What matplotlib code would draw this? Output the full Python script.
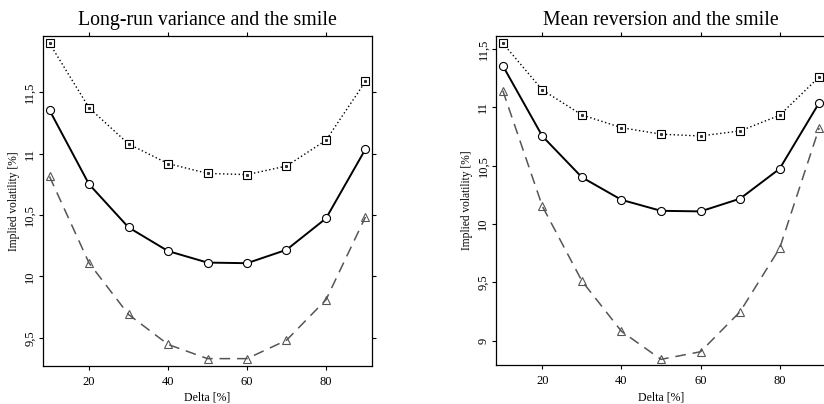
import matplotlib
matplotlib.use("Agg")
import matplotlib.pyplot as plt
from matplotlib.ticker import FuncFormatter

plt.rcParams['font.family'] = ['Liberation Serif', 'DejaVu Serif']

# Delta grid [%]
delta = [10, 20, 30, 40, 50, 60, 70, 80, 90]

# Base-case smile (shared by both panels)
base = [11.355, 10.752, 10.40, 10.207, 10.113, 10.108, 10.217, 10.473, 11.038]

# Long-run variance scenarios
lr_high = [11.90, 11.375, 11.08, 10.92, 10.84, 10.83, 10.90, 11.11, 11.59]
lr_low = [10.815, 10.11, 9.69, 9.446, 9.33, 9.33, 9.48, 9.81, 10.485]

# Mean reversion scenarios
mr_high = [11.548, 11.148, 10.934, 10.825, 10.769, 10.754, 10.797, 10.931, 11.26]
mr_low = [11.142, 10.152, 9.512, 9.081, 8.841, 8.906, 9.249, 9.792, 10.823]

titles = ["Long-run variance and the smile", "Mean reversion and the smile"]
x_ticks = [20, 40, 60, 80]
y_ticks_left = [9.5, 10, 10.5, 11, 11.5]
y_ticks_right = [9, 9.5, 10, 10.5, 11, 11.5]

W, H = 824, 404
fig = plt.figure(figsize=(W / 100, H / 100), dpi=100)

def px_axes(x0, x1, ytop, ybot):
    return fig.add_axes([x0 / W, 1 - ybot / H, (x1 - x0) / W, (ybot - ytop) / H])

ax_l = px_axes(43, 372, 36, 366)
ax_r = px_axes(496.3, 825.7, 36, 365.3)

comma = FuncFormatter(lambda v, p: (f"{v:g}").replace(".", ","))

def draw(ax, hi, lo, title, yticks, ylim):
    ax.plot(delta, hi, color="black", linestyle=(0, (1, 1.8)), lw=1.0,
            marker="s", ms=5.6, mfc="white", mec="black", mew=0.8, zorder=3)
    ax.plot(delta, hi, linestyle="none", marker="s", ms=1.2, color="#333333", zorder=4)
    ax.plot(delta, base, color="black", linestyle="-", lw=1.4,
            marker="o", ms=5.8, mfc="white", mec="black", mew=0.8, zorder=3)
    ax.plot(delta, lo, color="#555555", linestyle=(0, (7, 4.5)), lw=1.1,
            marker="^", ms=5.8, mfc="none", mec="#555555", mew=0.8, zorder=3)
    ax.set_xlim(8.35, 91.65)
    ax.set_ylim(*ylim)
    ax.set_xticks(x_ticks)
    ax.set_yticks(yticks)
    ax.yaxis.set_major_formatter(comma)
    ax.tick_params(direction="out", length=3, width=0.8, labelsize=9,
                   top=True, right=True, labeltop=False, labelright=False)
    ax.tick_params(axis="x", pad=4)
    ax.tick_params(axis="y", pad=2)
    for lab in ax.get_yticklabels():
        lab.set_rotation(90)
        lab.set_va("center")
    for s in ax.spines.values():
        s.set_linewidth(0.9)
    ax.set_title(title, fontsize=14.3, pad=8)
    ax.set_xlabel("Delta [%]", fontsize=8.5, labelpad=3)
    ax.set_ylabel("Implied volatility [%]", fontsize=8.3, labelpad=3)

draw(ax_l, lr_high, lr_low, titles[0], y_ticks_left, (9.27, 11.96))
draw(ax_r, mr_high, mr_low, titles[1], y_ticks_right, (8.79, 11.61))

fig.savefig("out.png", dpi=100)
